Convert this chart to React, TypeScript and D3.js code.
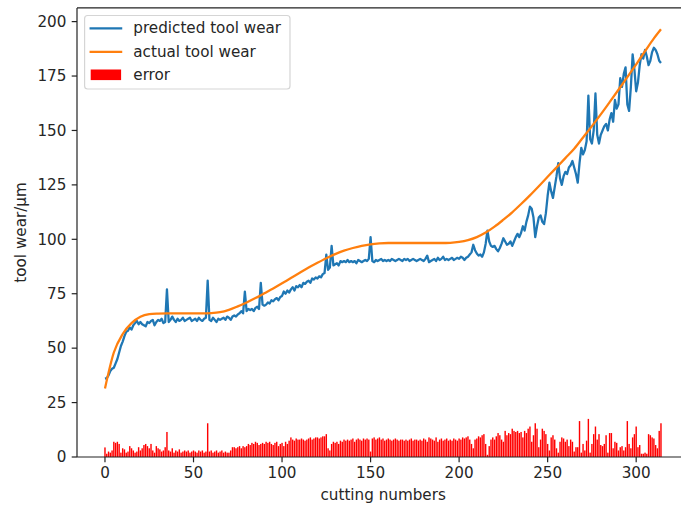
import React from "react";
import * as d3 from "d3";

const predicted: number[] = [
  36, 36.2, 37.5, 39.5, 40.5, 41, 43, 45, 48, 51,
  53, 55.5, 57.5, 58, 59.5, 58.5, 60.5, 61.5, 62.5, 61,
  62, 61, 60.5, 60, 62, 61.5, 62.5, 63, 60.5, 62,
  63, 62.5, 63.5, 61.5, 62, 77, 62, 63, 64.5, 63,
  62, 63.5, 62.5, 63, 64, 62.5, 63, 63.5, 64, 62.5,
  63, 63.5, 62.5, 64, 63, 62.5, 63.5, 64, 81, 63,
  62.5, 64, 63, 62, 63.5, 63, 63.5, 64, 63, 64.5,
  64, 63, 64.5, 65, 64.5, 65.5, 66, 67, 66, 76,
  67, 68, 67.5, 68, 67, 68.5, 69, 68, 80, 70,
  69.5, 70, 71, 70.5, 72, 71.5, 72.5, 73, 72, 73.5,
  74, 76, 75, 76.5, 75.5, 77, 78, 76.5, 78.5, 78,
  79, 78, 80, 79.5, 80.5, 81, 80, 82, 81.5, 82.5,
  82, 83, 82.5, 84, 84.5, 93, 86, 87, 97, 88,
  88.5, 89, 88, 90, 89.5, 90, 89.5, 90.5, 89.5, 90,
  89.5, 90, 89, 90.5, 90, 89.5, 90, 90.5, 90, 91,
  101, 90, 89.5, 90.5, 90, 90.5, 91, 90, 90.5, 90,
  90.5, 90, 91, 90.5, 90, 90.5, 91, 90.5, 90, 91,
  90.5, 91, 90, 90.5, 91, 90.5, 90, 90.5, 91, 90.5,
  90, 91, 92.5, 89.5, 90, 90.5, 91, 90, 91.5, 90.5,
  91, 92, 90.5, 91, 90.5, 91, 91.5, 90.5, 91, 91.5,
  91, 92, 91.5, 90.5, 91.5, 92, 93, 94, 97.5, 95,
  93.5, 92.5, 93, 92, 94, 98, 104, 99, 97, 96.5,
  97, 95.5, 94.5, 96, 98, 100.5, 99, 97.5, 98, 99,
  97, 99, 101, 102.5, 101, 103, 106, 104, 108, 111,
  115, 114, 110, 101, 106, 110, 111, 108, 107, 112,
  120, 126, 122, 119, 124, 129, 135, 128, 125, 129,
  131, 130, 133, 134, 136, 133, 130, 126, 135, 142,
  139, 141, 145, 166, 146, 144, 150, 167, 148, 144,
  148, 150, 152, 153, 150, 155, 158, 154, 164, 160,
  162, 174, 170, 176, 179, 162, 159, 170, 185, 178,
  168, 172, 180, 185, 183, 187, 184, 180, 182, 186,
  188, 187, 185, 182, 181,
];

const errors: number[] = [
  4.4, 1.5, 2.5, 2, 3, 7, 6.5, 7, 6, 2,
  4, 3.5, 2, 2.5, 5, 4, 3, 2, 2.5, 4.5,
  3, 4, 5.5, 6, 5, 4, 6, 3, 2, 5,
  4, 3.5, 2.5, 3, 4.5, 11.5, 3, 2.5, 4, 2,
  3, 2.5, 3.5, 2, 2.5, 3, 2.5, 3, 2, 2.5,
  3, 2.5, 2, 3, 2.5, 3, 2, 2.5, 15.5, 2.5,
  3, 2, 2.5, 3, 2, 2.5, 3, 2, 2.5, 2,
  2, 3, 4.5, 4.5, 4, 4.5, 5, 4, 5, 4.5,
  5, 6, 5.5, 6.5, 6, 7, 6.5, 5.5, 6, 6.5,
  6, 7, 6.5, 7, 6, 5.5, 6.5, 7, 5, 6,
  6.5, 5, 7, 6, 7.5, 9, 8, 7.5, 8.5, 8,
  8, 8.5, 8, 7.5, 8, 8.5, 9, 8, 8.5, 9,
  9, 8.5, 9, 9.5, 9.5, 10.5, 4, 3, 6, 7,
  6.5, 7, 6, 7.5, 7, 8, 7.5, 8, 7.5, 8,
  8.5, 7, 8, 8.5, 8, 7.5, 8.5, 8, 8.5, 8,
  2.5, 8.5, 9, 8, 8.5, 9, 8, 8.5, 7.5, 8,
  8.5, 8, 7.5, 8, 8.5, 8, 7.5, 8, 8, 7.5,
  8, 7.5, 8, 8.5, 7.5, 8, 8, 7.5, 8, 7.5,
  8.5, 8, 7, 9, 8.5, 8, 7.5, 9, 7, 8,
  8.5, 7.5, 8, 8.5, 7.5, 8, 7.5, 8.5, 8, 7.5,
  8.5, 8, 9, 8.5, 9, 9.5, 8, 6, 4, 8,
  8.5, 9.5, 9, 10, 10.5, 6, 1, 5, 8, 9,
  8, 9.5, 11, 10, 8, 7, 12, 10, 11, 10.5,
  13, 12, 11.5, 12, 11, 11.5, 9, 12, 11, 13,
  14, 7, 10, 15.5, 13, 4.5, 8, 13, 12, 10.5,
  6, 3, 9, 10, 8, 4, 2, 7, 9, 8.5,
  7, 8, 5, 8, 7, 2.5, 4.5, 4.5, 16.5, 2,
  6, 3, 7.5, 17.5, 2, 6, 10.5, 14, 8, 10.5,
  5.5, 5, 6, 10, 2, 11, 11, 4, 7, 6.5,
  3, 4.5, 5, 3, 4.5, 16.5, 6, 4, 9, 10.5,
  14, 4.5, 5.5, 1.5, 1.5, 2, 1.5, 10.5, 10, 9,
  8.5, 5.5, 4, 12, 15.5,
];

const actualIdx: number[] = [
  0, 5, 10, 15, 20, 25, 30, 35, 40, 45, 50, 55, 60, 65, 70, 75, 80, 85, 90, 95,
  100, 105, 110, 115, 120, 125, 130, 135, 140, 145, 150, 155, 160, 165, 170, 175,
  180, 185, 190, 195, 200, 205, 210, 215, 220, 225, 230, 235, 240, 245, 250, 255,
  260, 265, 270, 275, 280, 285, 290, 295, 300, 305, 310, 314,
];
const actualVal: number[] = [
  31.5, 48, 56.5, 61.5, 64.4, 65.6, 65.9, 66, 66, 66, 66, 66, 66.1, 66.5, 67.6, 69.2, 71, 73, 75.2, 77.4,
  79.8, 82.2, 84.6, 87, 89.2, 91.3, 93.2, 94.8, 96, 97, 97.7, 98.1, 98.3, 98.3, 98.3, 98.3,
  98.3, 98.3, 98.3, 98.4, 98.8, 99.6, 101, 103.1, 105.8, 109, 112.4, 116.2, 120.2, 124.4, 128.7, 133,
  137.3, 141.6, 146.8, 152, 157.4, 163, 168.7, 174.5, 180.4, 186.4, 192.3, 196.5,
];

const xTicks: number[] = [0, 50, 100, 150, 200, 250, 300];
const yTicks: number[] = [0, 25, 50, 75, 100, 125, 150, 175, 200];
const legendLabels: string[] = ["predicted tool wear", "actual tool wear", "error"];

const W = 681;
const H = 508;
const L = 77;
const R = 689.3;
const T = 7.9;
const B = 457;
const FONT = "DejaVu Sans";
const FS = 15.2;
const TEXT = "#262626";

export default function App() {
  const x = d3.scaleLinear().domain([-15.8, 330]).range([L, R]);
  const y = d3.scaleLinear().domain([0, 206.3]).range([B, T]);

  const predLine = d3
    .line<number>()
    .x((_, i) => x(i))
    .y((d) => y(d));
  const actLine = d3
    .line<number>()
    .x((_, i) => x(actualIdx[i]))
    .y((d) => y(d))
    .curve(d3.curveMonotoneX);

  const bw = x(0.8) - x(0);

  return (
    <div style={{ position: "fixed", left: 0, top: 0 }}>
      <svg width={W} height={H} style={{ display: "block", background: "#fff" }}>
        <defs>
          <clipPath id="plotclip">
            <rect x={L} y={T} width={R - L} height={B - T} />
          </clipPath>
        </defs>
        <g clipPath="url(#plotclip)">
          <path d={predLine(predicted) || ""} fill="none" stroke="#1f77b4" strokeWidth={2.28} strokeLinejoin="round" />
          <path d={actLine(actualVal) || ""} fill="none" stroke="#ff7f0e" strokeWidth={2.28} strokeLinejoin="round" />
          {errors.map((e, i) => (
            <rect key={i} x={x(i - 0.4)} y={y(e)} width={bw} height={y(0) - y(e)} fill="#ff0000" />
          ))}
        </g>
        {/* spines */}
        <line x1={L} y1={T} x2={L} y2={B} stroke="#222" strokeWidth={1.2} />
        <line x1={L} y1={T} x2={R} y2={T} stroke="#222" strokeWidth={1.2} />
        <line x1={L} y1={B} x2={R} y2={B} stroke="#222" strokeWidth={1.2} />
        <line x1={R} y1={T} x2={R} y2={B} stroke="#222" strokeWidth={1.2} />
        {/* x ticks */}
        {xTicks.map((t) => (
          <g key={"x" + t}>
            <line x1={x(t)} x2={x(t)} y1={B} y2={B + 5.3} stroke="#222" strokeWidth={1.2} />
            <text x={x(t)} y={478.3} textAnchor="middle" fontFamily={FONT} fontSize={FS} fill={TEXT}>
              {t}
            </text>
          </g>
        ))}
        {/* y ticks */}
        {yTicks.map((t) => (
          <g key={"y" + t}>
            <line x1={L - 5.3} x2={L} y1={y(t)} y2={y(t)} stroke="#222" strokeWidth={1.2} />
            <text x={66.4} y={y(t) + 5.2} textAnchor="end" fontFamily={FONT} fontSize={FS} fill={TEXT}>
              {t}
            </text>
          </g>
        ))}
        <text x={(L + R) / 2} y={499.5} textAnchor="middle" fontFamily={FONT} fontSize={FS} fill={TEXT}>
          cutting numbers
        </text>
        <text
          transform={`translate(25.5, ${(T + B) / 2}) rotate(-90)`}
          textAnchor="middle"
          fontFamily={FONT}
          fontSize={FS}
          fill={TEXT}
        >
          tool wear/μm
        </text>
        {/* legend */}
        <rect x={84.6} y={15.5} width={205.4} height={73.5} rx={3} ry={3} fill="#fff" fillOpacity={0.8} stroke="#d5d5d5" strokeWidth={1.2} />
        <line x1={90.7} x2={121.1} y1={28.3} y2={28.3} stroke="#1f77b4" strokeWidth={2.28} strokeLinecap="square" />
        <line x1={90.7} x2={121.1} y1={51.8} y2={51.8} stroke="#ff7f0e" strokeWidth={2.28} strokeLinecap="square" />
        <rect x={90.7} y={69.5} width={30.4} height={10.6} fill="#ff0000" />
        {legendLabels.map((s, i) => (
          <text key={s} x={133.3} y={33.3 + i * 23.5} fontFamily={FONT} fontSize={FS} fill={TEXT}>
            {s}
          </text>
        ))}
      </svg>
    </div>
  );
}
